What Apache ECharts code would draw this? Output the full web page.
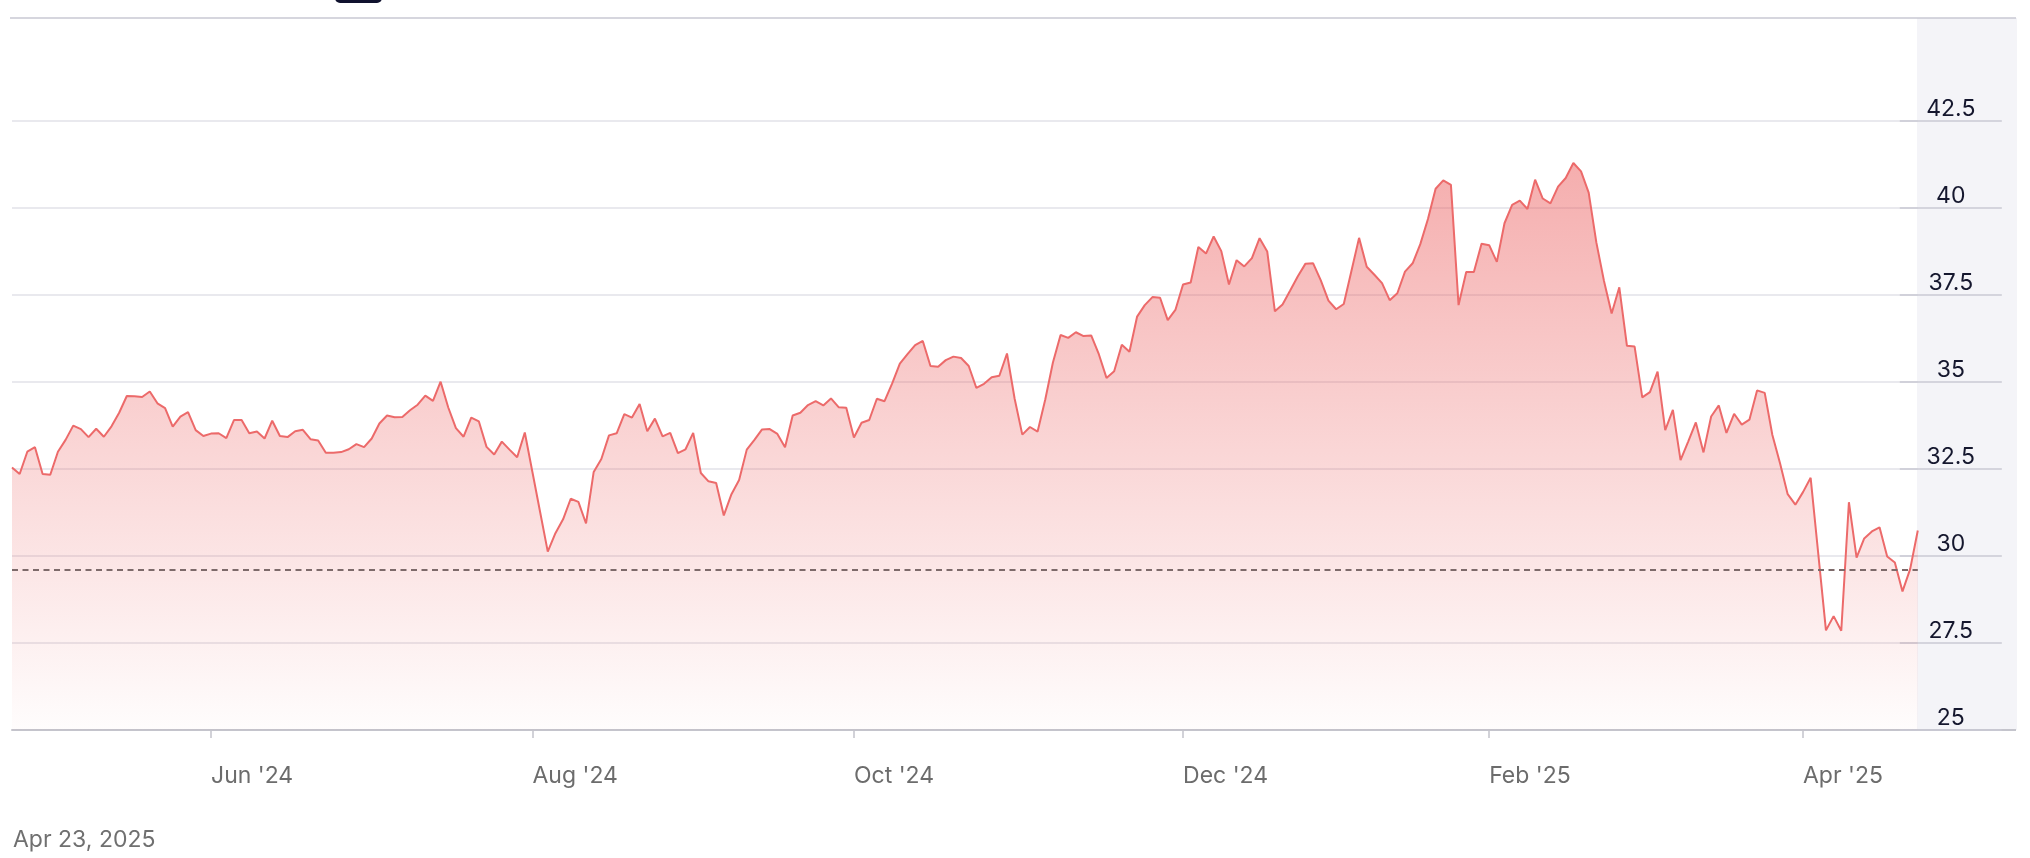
<!DOCTYPE html>
<html>
<head>
<meta charset="utf-8">
<script src="https://cdn.jsdelivr.net/npm/echarts/dist/echarts.min.js"></script>
<style>
html,body{margin:0;padding:0;background:#ffffff;}
#chart{width:2030px;height:858px;}
</style>
</head>
<body>
<div id="chart"></div>
<script>
// Daily closing prices, one year of trading days (Apr 2024 – Apr 23, 2025)
const prices = [
  32.54, 32.35, 32.99, 33.12, 32.35, 32.33, 32.99, 33.33, 33.74, 33.64,
  33.41, 33.65, 33.42, 33.72, 34.11, 34.59, 34.58, 34.56, 34.72, 34.38,
  34.24, 33.71, 34.00, 34.13, 33.61, 33.44, 33.51, 33.52, 33.38, 33.90,
  33.90, 33.52, 33.57, 33.37, 33.88, 33.44, 33.41, 33.58, 33.62, 33.35,
  33.31, 32.96, 32.96, 32.98, 33.06, 33.21, 33.12, 33.37, 33.80, 34.03,
  33.98, 33.99, 34.18, 34.34, 34.60, 34.45, 35.00, 34.26, 33.67, 33.42,
  33.97, 33.86, 33.13, 32.91, 33.28, 33.05, 32.83, 33.54, 32.40, 31.26,
  30.12, 30.65, 31.05, 31.64, 31.55, 30.93, 32.41, 32.78, 33.46, 33.52,
  34.07, 33.97, 34.36, 33.58, 33.94, 33.43, 33.53, 32.95, 33.06, 33.53,
  32.38, 32.14, 32.09, 31.16, 31.77, 32.18, 33.05, 33.33, 33.63, 33.64,
  33.50, 33.12, 34.03, 34.11, 34.33, 34.44, 34.32, 34.52, 34.27, 34.25,
  33.40, 33.82, 33.90, 34.51, 34.44, 34.95, 35.52, 35.79, 36.05, 36.17,
  35.45, 35.43, 35.62, 35.72, 35.68, 35.45, 34.82, 34.94, 35.13, 35.17,
  35.81, 34.51, 33.48, 33.70, 33.57, 34.49, 35.55, 36.34, 36.26, 36.42,
  36.31, 36.33, 35.79, 35.11, 35.30, 36.06, 35.86, 36.87, 37.20, 37.43,
  37.41, 36.77, 37.06, 37.79, 37.85, 38.87, 38.68, 39.17, 38.75, 37.79,
  38.49, 38.31, 38.55, 39.12, 38.74, 37.02, 37.22, 37.62, 38.03, 38.39,
  38.40, 37.91, 37.33, 37.08, 37.23, 38.18, 39.13, 38.30, 38.07, 37.83,
  37.34, 37.54, 38.16, 38.40, 38.95, 39.67, 40.54, 40.78, 40.65, 37.20,
  38.15, 38.15, 38.96, 38.92, 38.44, 39.55, 40.08, 40.20, 39.96, 40.80,
  40.26, 40.12, 40.60, 40.85, 41.28, 41.04, 40.43, 39.00, 37.89, 36.96,
  37.71, 36.03, 36.01, 34.55, 34.70, 35.29, 33.61, 34.19, 32.75, 33.28,
  33.83, 32.97, 34.00, 34.32, 33.53, 34.08, 33.77, 33.91, 34.75, 34.68,
  33.47, 32.66, 31.77, 31.47, 31.83, 32.24, 30.05, 27.86, 28.27, 27.85,
  31.54, 29.95, 30.50, 30.70, 30.82, 29.98, 29.81, 28.98, 29.62, 30.73
];
const categories = prices.map(function (_, i) { return String(i); });
const tickIndex = [26, 68, 110, 153, 193, 234];
const tickLabels = ["Jun '24", "Aug '24", "Oct '24", "Dec '24", "Feb '25", "Apr '25"];
const yMin = 25, yMax = 42.5, yStep = 2.5;
const previousClose = 29.6;
const dateLabel = "Apr 23, 2025";

const chart = echarts.init(document.getElementById('chart'), null, { renderer: 'canvas' });

const option = {
  animation: false,
  backgroundColor: '#ffffff',
  textStyle: { fontFamily: 'Inter, "Noto Sans", sans-serif' },
  title: {
    text: dateLabel,
    left: 8,
    top: 824,
    textStyle: { fontFamily: 'Inter', fontSize: 23, fontWeight: 'normal', color: '#707070' }
  },
  grid: { left: 12, right: 112.2, top: 120.5, bottom: 128, containLabel: false },
  graphic: [
    { type: 'rect', z: -10, shape: { x: 1917, y: 18, width: 100, height: 712 }, style: { fill: '#f4f4f8' } },
    { type: 'line', shape: { x1: 10, y1: 18, x2: 2016, y2: 18 }, style: { stroke: '#c9c9d3', lineWidth: 1.5 } },
    { type: 'line', shape: { x1: 1917, y1: 730, x2: 2016, y2: 730 }, style: { stroke: '#c4c4cc', lineWidth: 2 } },
    { type: 'rect', shape: { x: 335, y: -10, width: 47, height: 13, r: 5 }, style: { fill: '#10122e' } }
  ],
  xAxis: {
    type: 'category',
    data: categories,
    boundaryGap: false,
    axisLine: { show: true, lineStyle: { color: '#c4c4cc', width: 2 } },
    axisTick: {
      show: true,
      length: 8,
      interval: function (idx) { return tickIndex.indexOf(idx) >= 0; },
      lineStyle: { color: '#c4c4cc', width: 1.5 }
    },
    axisLabel: {
      show: true,
      interval: function (idx) { return tickIndex.indexOf(idx) >= 0; },
      formatter: function (v, idx) { const k = tickIndex.indexOf(idx); return k >= 0 ? tickLabels[k] : ''; },
      align: 'left',
      margin: 35,
      fontFamily: 'Inter',
      fontSize: 23,
      color: '#6c6c6c'
    },
    splitLine: { show: false }
  },
  yAxis: {
    type: 'value',
    position: 'right',
    offset: -18,
    min: yMin,
    max: yMax,
    interval: yStep,
    axisLine: { show: false },
    axisTick: { show: true, inside: false, length: 102, lineStyle: { color: '#c9c9d3', width: 1.5 } },
    axisLabel: {
      show: true,
      margin: 51,
      align: 'center',
      verticalAlign: 'bottom',
      padding: [0, 0, 0, 0],
      fontFamily: 'Inter',
      fontSize: 23,
      color: '#15172e',
      formatter: function (v) { return String(v); }
    },
    splitLine: { show: true, lineStyle: { color: '#e2e2e9', width: 1.5 } }
  },
  series: [{
    type: 'line',
    data: prices,
    showSymbol: false,
    symbol: 'none',
    lineStyle: { color: '#ec6a6a', width: 2 },
    areaStyle: {
      origin: 'start',
      color: new echarts.graphic.LinearGradient(0, 0, 0, 1, [
        { offset: 0, color: 'rgba(234,84,84,0.68)' },
        { offset: 0.45, color: 'rgba(234,84,84,0.38)' },
        { offset: 1, color: 'rgba(234,84,84,0.02)' }
      ])
    },
    markLine: {
      silent: true,
      symbol: ['none', 'none'],
      label: { show: false },
      lineStyle: { type: [6, 4.5], color: '#7d6a6a', width: 2 },
      data: [{ yAxis: previousClose }]
    }
  }]
};
chart.setOption(option);
</script>
</body>
</html>
